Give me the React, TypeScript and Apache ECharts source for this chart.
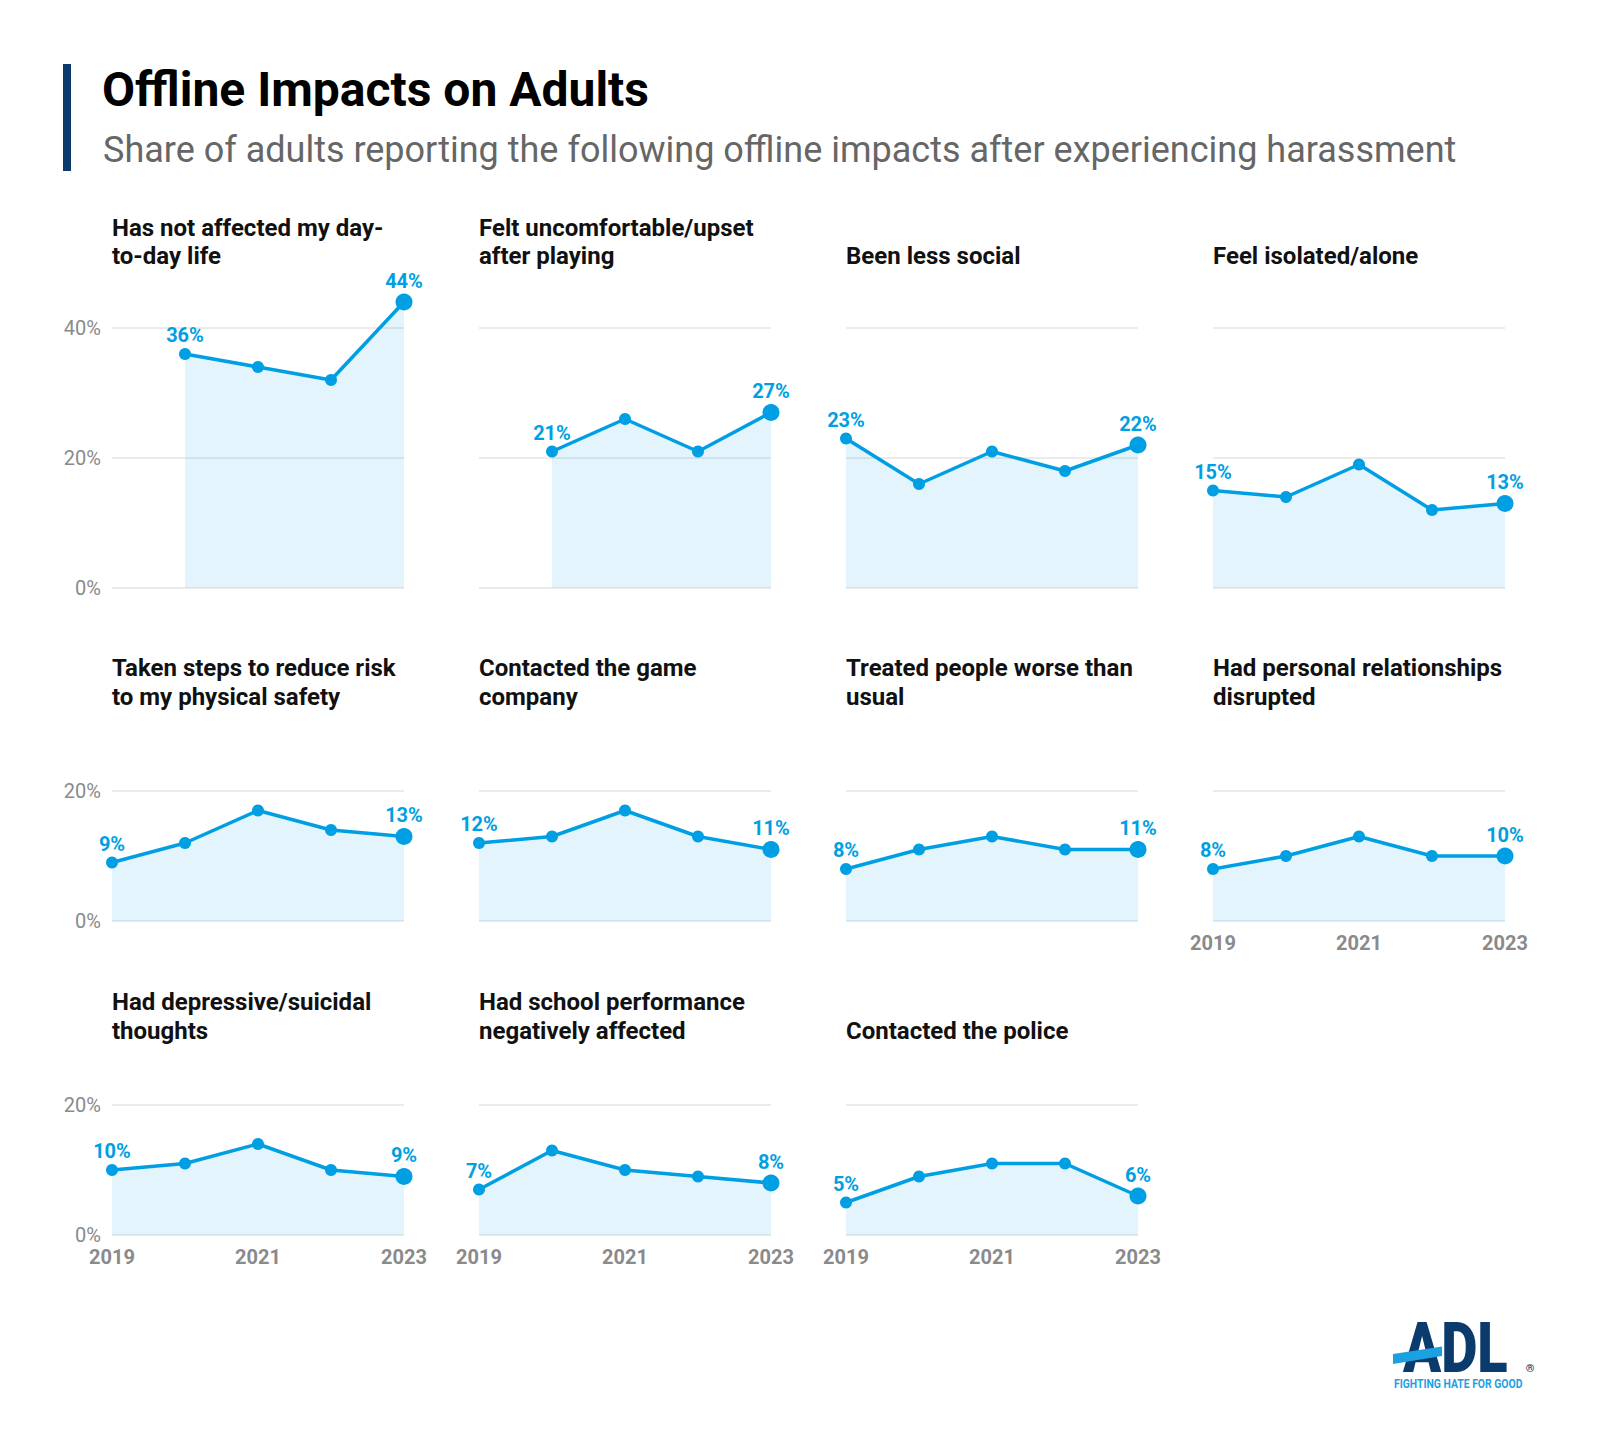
import React, { useEffect, useRef } from "react";
import * as echarts from "echarts";

// ---------- DATA ----------
const years = ["2019", "2020", "2021", "2022", "2023"];

const panelTitles: string[][] = [
  ["Has not affected my day-", "to-day life"],
  ["Felt uncomfortable/upset", "after playing"],
  ["Been less social"],
  ["Feel isolated/alone"],
  ["Taken steps to reduce risk", "to my physical safety"],
  ["Contacted the game", "company"],
  ["Treated people worse than", "usual"],
  ["Had personal relationships", "disrupted"],
  ["Had depressive/suicidal", "thoughts"],
  ["Had school performance", "negatively affected"],
  ["Contacted the police"],
];

const notAffected = [null, 36, 34, 32, 44];
const feltUncomfortable = [null, 21, 26, 21, 27];
const lessSocial = [23, 16, 21, 18, 22];
const isolated = [15, 14, 19, 12, 13];
const physicalSafety = [9, 12, 17, 14, 13];
const contactedCompany = [12, 13, 17, 13, 11];
const treatedWorse = [8, 11, 13, 11, 11];
const relationships = [8, 10, 13, 10, 10];
const depressive = [10, 11, 14, 10, 9];
const schoolPerformance = [7, 13, 10, 9, 8];
const contactedPolice = [5, 9, 11, 11, 6];

const panelValues: (number | null)[][] = [
  notAffected,
  feltUncomfortable,
  lessSocial,
  isolated,
  physicalSafety,
  contactedCompany,
  treatedWorse,
  relationships,
  depressive,
  schoolPerformance,
  contactedPolice,
];

const rowYMax = [40, 20, 20];
const yInterval = 20;

const titleText = "Offline Impacts on Adults";
const subtitleText =
  "Share of adults reporting the following offline impacts after experiencing harassment";

// ---------- LAYOUT ----------
const BLUE = "#009FE3";
const NAVY = "#0B3A6C";
const colLeft = [112, 479, 846, 1213];
const plotWidth = 292;
const rowTop = [328, 791, 1105];
const rowHeight = [260, 130, 130];
const titleBottom = [270.6, 711, 1045];
const xLabelPanels = [7, 8, 9, 10];
const FONT = "Roboto, 'Noto Sans', sans-serif";

export default function App() {
  const ref = useRef<HTMLDivElement>(null);

  useEffect(() => {
    document.body.style.margin = "0";
    if (!ref.current) return;
    const chart = echarts.init(ref.current, null, { renderer: "svg" });

    const grids: any[] = [];
    const xAxes: any[] = [];
    const yAxes: any[] = [];
    const series: any[] = [];
    const graphics: any[] = [];

    panelValues.forEach((vals, i) => {
      const r = Math.floor(i / 4);
      const c = i % 4;
      grids.push({
        left: colLeft[c],
        top: rowTop[r],
        width: plotWidth,
        height: rowHeight[r],
        containLabel: false,
        outerBoundsMode: "none",
      });
      const showX = xLabelPanels.indexOf(i) >= 0;
      xAxes.push({
        type: "category",
        gridIndex: i,
        data: years,
        boundaryGap: false,
        axisLine: { show: false },
        axisTick: { show: false },
        splitLine: { show: false },
        axisLabel: {
          show: showX,
          interval: 1,
          color: "#8a8a8a",
          fontFamily: FONT,
          fontWeight: "bold",
          fontSize: 20,
          margin: 12,
        },
      });
      yAxes.push({
        type: "value",
        gridIndex: i,
        min: 0,
        max: rowYMax[r],
        interval: yInterval,
        axisLine: { show: false },
        axisTick: { show: false },
        splitLine: { show: true, lineStyle: { color: "#ebebeb", width: 2 } },
        axisLabel: {
          show: c === 0,
          formatter: "{value}%",
          color: "#8a8a8a",
          fontFamily: FONT,
          fontSize: 20,
          margin: 11,
        },
      });
      const first = vals.findIndex((v) => v != null);
      const last = vals.length - 1;
      series.push({
        type: "line",
        xAxisIndex: i,
        yAxisIndex: i,
        clip: false,
        symbol: "circle",
        showSymbol: true,
        silent: true,
        data: vals.map((v, j) =>
          v == null
            ? "-"
            : {
                value: v,
                symbolSize: j === last ? 17 : 12,
                label: { show: j === first || j === last },
              }
        ),
        lineStyle: { color: BLUE, width: 3.5 },
        itemStyle: { color: BLUE },
        areaStyle: { color: "rgba(0,159,227,0.11)", opacity: 1 },
        label: {
          position: "top",
          distance: 3,
          formatter: "{c}%",
          color: BLUE,
          fontFamily: FONT,
          fontWeight: "bold",
          fontSize: 20,
        },
        emphasis: { disabled: true },
      });
      graphics.push({
        type: "text",
        x: colLeft[c],
        y: titleBottom[r],
        style: {
          text: panelTitles[i].join("\n"),
          font: `bold 24px ${FONT}`,
          fill: "#111111",
          lineHeight: 28.5,
          verticalAlign: "bottom",
          align: "left",
        },
      });
    });

    // Header
    graphics.push(
      { type: "rect", shape: { x: 63, y: 64, width: 8, height: 107 }, style: { fill: NAVY } },
      {
        type: "text",
        x: 102,
        y: 89.6,
        style: {
          text: titleText,
          font: `bold 48px ${FONT}`,
          fill: "#000000",
          verticalAlign: "middle",
          align: "left",
        },
      },
      {
        type: "text",
        x: 103,
        y: 150,
        style: {
          text: subtitleText,
          font: `36px ${FONT}`,
          fill: "#666666",
          verticalAlign: "middle",
          align: "left",
        },
      }
    );

    // ADL logo
    graphics.push(
      {
        type: "text",
        x: 1403,
        y: 1347.5,
        scaleX: 0.8,
        style: {
          text: "ADL",
          font: `900 70px ${FONT}`,
          fill: NAVY,
          verticalAlign: "middle",
          align: "left",
        },
      },
      {
        type: "polygon",
        shape: {
          points: [
            [1393, 1354],
            [1442, 1346.5],
            [1442, 1356],
            [1393, 1364],
          ],
        },
        style: { fill: "#1BA1E2" },
      },
      {
        type: "text",
        x: 1530,
        y: 1368,
        style: { text: "®", font: `bold 11px ${FONT}`, fill: NAVY, align: "center", verticalAlign: "middle" },
      },
      {
        type: "text",
        x: 1394,
        y: 1383.5,
        scaleX: 0.8,
        style: {
          text: "FIGHTING HATE FOR GOOD",
          font: `bold 13px ${FONT}`,
          fill: "#1BA1E2",
          verticalAlign: "middle",
          align: "left",
        },
      }
    );

    chart.setOption({
      animation: false,
      backgroundColor: "#ffffff",
      textStyle: { fontFamily: FONT },
      grid: grids,
      xAxis: xAxes,
      yAxis: yAxes,
      series,
      graphic: graphics,
    });

    return () => chart.dispose();
  }, []);

  return <div ref={ref} style={{ width: 1600, height: 1455 }} />;
}
